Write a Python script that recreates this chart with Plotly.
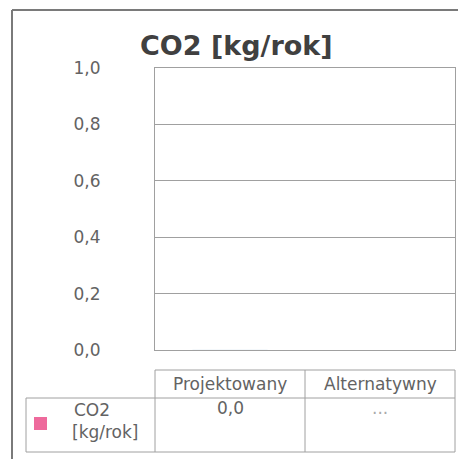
import plotly.graph_objects as go

# ---- data ----
categories = ["Projektowany", "Alternatywny"]
series_name = "CO2 [kg/rok]"
series_label_lines = ["CO2", "[kg/rok]"]
values = [0.0, None]
table_values = ["0,0", "..."]
y_ticks = [0.0, 0.2, 0.4, 0.6, 0.8, 1.0]
title_text = "CO2 [kg/rok]"

W, H = 458, 459
L, R, T, B = 155, 455, 68, 350
PW, PH = R - L, B - T

def px(x):
    return (x - L) / PW

def py(y):
    return (B - y) / PH

GRID = "#a0a0a0"
TXT = "#636363"
PINK = "#ee6a9c"

fig = go.Figure()
fig.add_trace(go.Bar(
    x=categories, y=values, name=series_name,
    marker=dict(color=PINK), showlegend=False, width=0.5,
))

shapes = []
def line(x0, y0, x1, y1, color=GRID, w=1):
    shapes.append(dict(type="line", xref="paper", yref="paper",
                       x0=px(x0), y0=py(y0), x1=px(x1), y1=py(y1),
                       line=dict(color=color, width=w)))

# outer frame
line(12, 10, 12, 459, color="#7a7a7a", w=2)
line(12, 10, 458, 10, color="#7a7a7a", w=2)

# table header
line(155, 370, 455, 370)
line(155, 370, 155, 398)
line(305, 370, 305, 452)
line(455, 370, 455, 452)
# data row
line(26, 398, 455, 398)
line(26, 452, 455, 452)
line(26, 398, 26, 452)
line(155, 398, 155, 452)

# legend key square
shapes.append(dict(type="rect", xref="paper", yref="paper",
                   x0=px(34), x1=px(47), y0=py(417), y1=py(430),
                   fillcolor=PINK, line=dict(width=0)))

annotations = []
def text(x, y, s, size=16, color=TXT, xanchor="center", family="DejaVu Sans"):
    annotations.append(dict(xref="paper", yref="paper", x=px(x), y=py(y), text=s,
                            showarrow=False, xanchor=xanchor, yanchor="middle",
                            font=dict(size=size, color=color, family=family)))

text(236, 45, "<b>" + title_text + "</b>", size=27, color="#404040")
col_centers = [230, 380]
for c, name in zip(col_centers, categories):
    text(c, 384, name, size=17)
for c, v in zip(col_centers, table_values):
    text(c, 408, v, size=17, color=TXT if v != "..." else "#aaaaaa")
text(72, 410, series_label_lines[0], size=17, xanchor="left")
text(70, 432, series_label_lines[1], size=17, xanchor="left")

fig.update_layout(
    width=W, height=H,
    margin=dict(l=L, r=W - R, t=T, b=H - B, pad=0),
    paper_bgcolor="white", plot_bgcolor="white",
    separators=",.",
    shapes=shapes, annotations=annotations,
    xaxis=dict(showticklabels=False, showgrid=False, zeroline=False,
               showline=True, mirror=True, linecolor=GRID, linewidth=1,
               ticks=""),
    yaxis=dict(range=[0, 1], tickvals=y_ticks, tickformat=".1f",
               showgrid=True, gridcolor=GRID, gridwidth=1, zeroline=False,
               showline=True, mirror=True, linecolor=GRID, linewidth=1,
               ticks="", ticklabelstandoff=50,
               tickfont=dict(family="DejaVu Sans", size=17, color=TXT)),
    bargap=0.5,
)

fig.write_html("out.html", config={"displayModeBar": False},
               post_script="document.body.style.margin='0';document.body.style.overflow='hidden';")
